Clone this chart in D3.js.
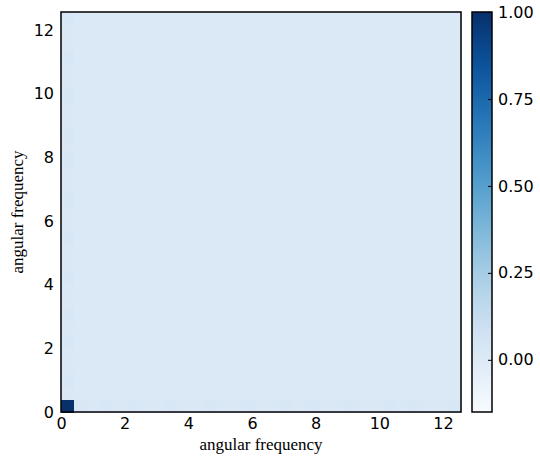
<!DOCTYPE html>
<html>
<head>
<meta charset="utf-8">
<script src="https://cdn.jsdelivr.net/npm/d3@7"></script>
<style>
  html, body { margin: 0; padding: 0; background: #fff; }
  svg { display: block; }
</style>
</head>
<body>
<svg id="chart" width="540" height="458"></svg>
<script>
// Frequency axis: 31 bins spanning 0 .. 4π (rad)
const binCount = 31;
const freqMax = 4 * Math.PI;
const axisTicks = [0, 2, 4, 6, 8, 10, 12];
const colorTicks = [0.00, 0.25, 0.50, 0.75, 1.00];
const colorDomain = [-0.15, 1.0];

// Correlation level along the first row (ω_y = 0) and first column (ω_x = 0)
const firstRow = [1.00, 0.03, 0.02, 0.03, 0.02, 0.03, 0.02, 0.02, 0.03, 0.02, 0.02,
                  0.03, 0.02, 0.02, 0.03, 0.02, 0.02, 0.03, 0.02, 0.03, 0.02, 0.02,
                  0.03, 0.02, 0.02, 0.03, 0.02, 0.03, 0.02, 0.02, 0.03];
const firstCol = [1.00, 0.02, 0.03, 0.02, 0.02, 0.03, 0.02, 0.03, 0.02, 0.02, 0.03,
                  0.02, 0.02, 0.03, 0.02, 0.02, 0.03, 0.02, 0.02, 0.03, 0.02, 0.03,
                  0.02, 0.02, 0.03, 0.02, 0.02, 0.03, 0.02, 0.02, 0.03];
// Level everywhere away from the axes
const offAxisLevel = 0.012;

const svg = d3.select("#chart");
const plot = { left: 61, top: 12, width: 400, height: 400 };
const bar = { left: 472, top: 12, width: 20, height: 400 };

const x = d3.scaleLinear().domain([0, freqMax]).range([plot.left, plot.left + plot.width]);
const y = d3.scaleLinear().domain([0, freqMax]).range([plot.top + plot.height, plot.top]);
const color = d3.scaleSequential(d3.interpolateBlues).domain(colorDomain);

const binWidth = freqMax / binCount;
const cells = [];
for (let j = 0; j < binCount; j++) {
  for (let i = 0; i < binCount; i++) {
    let v = offAxisLevel;
    if (j === 0) v = firstRow[i];
    else if (i === 0) v = firstCol[j];
    cells.push({ i, j, v });
  }
}

svg.append("g")
  .selectAll("rect")
  .data(cells)
  .join("rect")
  .attr("x", d => x(d.i * binWidth))
  .attr("y", d => y((d.j + 1) * binWidth))
  .attr("width", d => x((d.i + 1) * binWidth) - x(d.i * binWidth) + 0.5)
  .attr("height", d => y(d.j * binWidth) - y((d.j + 1) * binWidth) + 0.5)
  .attr("fill", d => color(d.v))
  .attr("shape-rendering", "crispEdges");

// Plot frame
svg.append("rect")
  .attr("x", plot.left).attr("y", plot.top)
  .attr("width", plot.width).attr("height", plot.height)
  .attr("fill", "none").attr("stroke", "#000").attr("stroke-width", 1.5);

const tickFont = "'DejaVu Sans', sans-serif";
const labelFont = "'Liberation Serif', 'DejaVu Serif', serif";

// x axis tick labels
svg.append("g")
  .attr("transform", `translate(0,${plot.top + plot.height})`)
  .call(d3.axisBottom(x).tickValues(axisTicks).tickSize(0).tickPadding(6).tickFormat(d3.format("d")))
  .call(g => g.select(".domain").remove())
  .call(g => g.selectAll("text").attr("font-family", tickFont).attr("font-size", 16).attr("fill", "#000"));

// y axis tick labels
svg.append("g")
  .attr("transform", `translate(${plot.left},0)`)
  .call(d3.axisLeft(y).tickValues(axisTicks).tickSize(0).tickPadding(7).tickFormat(d3.format("d")))
  .call(g => g.select(".domain").remove())
  .call(g => g.selectAll("text").attr("font-family", tickFont).attr("font-size", 16).attr("fill", "#000"));

// Axis titles
svg.append("text")
  .attr("x", plot.left + plot.width / 2).attr("y", 450)
  .attr("text-anchor", "middle")
  .attr("font-family", labelFont).attr("font-size", 17)
  .text("angular frequency");

svg.append("text")
  .attr("transform", `translate(23,${plot.top + plot.height / 2}) rotate(-90)`)
  .attr("text-anchor", "middle")
  .attr("font-family", labelFont).attr("font-size", 17)
  .text("angular frequency");

// Colour bar
const cb = d3.scaleLinear().domain(colorDomain).range([bar.top + bar.height, bar.top]);
const defs = svg.append("defs");
const grad = defs.append("linearGradient")
  .attr("id", "cbGrad").attr("x1", 0).attr("y1", 1).attr("x2", 0).attr("y2", 0);
d3.range(0, 1.0001, 0.05).forEach(t => {
  grad.append("stop")
    .attr("offset", t)
    .attr("stop-color", color(colorDomain[0] + t * (colorDomain[1] - colorDomain[0])));
});
svg.append("rect")
  .attr("x", bar.left).attr("y", bar.top)
  .attr("width", bar.width).attr("height", bar.height)
  .attr("fill", "url(#cbGrad)");

const cbAxis = svg.append("g")
  .attr("transform", `translate(${bar.left + bar.width},0)`)
  .call(d3.axisRight(cb).tickValues(colorTicks).tickSize(-4).tickPadding(6).tickFormat(d3.format(".2f")));
cbAxis.select(".domain").remove();
cbAxis.selectAll("line").attr("stroke", "#000").attr("stroke-width", 1);
cbAxis.selectAll("text").attr("font-family", tickFont).attr("font-size", 16).attr("fill", "#000");

svg.append("rect")
  .attr("x", bar.left).attr("y", bar.top)
  .attr("width", bar.width).attr("height", bar.height)
  .attr("fill", "none").attr("stroke", "#000").attr("stroke-width", 1.5);
</script>
</body>
</html>
